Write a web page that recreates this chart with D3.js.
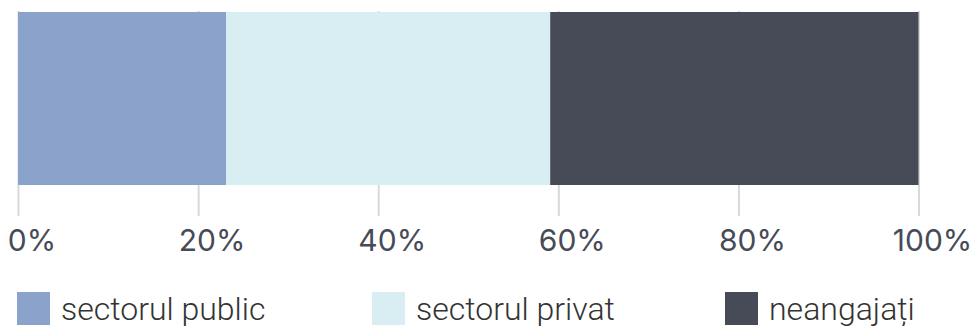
<!DOCTYPE html>
<html><head><meta charset="utf-8">
<script src="https://cdn.jsdelivr.net/npm/d3@7"></script>
<style>body{margin:0;background:#fff}svg{display:block}</style>
</head><body>
<script>
const categories = ["sectorul public", "sectorul privat", "neangajați"];
const values = [23.1, 36, 40.9];
const colors = ["#8ba3cb", "#d9eef3", "#474a57"];
const tickValues = [0, 20, 40, 60, 80, 100];
const tickLabels = ["0%", "20%", "40%", "60%", "80%", "100%"];

const W = 972, H = 326;
const svg = d3.select("body").append("svg").attr("width", W).attr("height", H);
const x = d3.scaleLinear().domain([0, 100]).range([18, 918.5]);

// gridlines / ticks
const axis = d3.axisBottom(x).tickValues(tickValues).tickSize(205)
  .tickFormat((d, i) => tickLabels[i]).tickPadding(14);
const g = svg.append("g").attr("transform", "translate(0,11)").call(axis);
g.select(".domain").remove();
g.selectAll(".tick line").attr("stroke", "#d9d9d9").attr("stroke-width", 2);
g.selectAll(".tick text").attr("fill", "#474a57").attr("font-family", "Inter")
  .attr("font-size", 30).attr("dx", 13.5).attr("dy", "0.71em").attr("y", 219);

// stacked bar
let acc = 0;
const segs = values.map((v, i) => { const s = {x0: acc, x1: acc + v, c: colors[i]}; acc += v; return s; });
svg.append("g").selectAll("rect").data(segs).join("rect")
  .attr("x", d => x(d.x0)).attr("width", d => x(d.x1) - x(d.x0))
  .attr("y", 12).attr("height", 173).attr("fill", d => d.c);

// legend
const legX = [17, 372, 725];
const leg = svg.append("g").selectAll("g").data(categories).join("g")
  .attr("transform", (d, i) => `translate(${legX[i]},292)`);
leg.append("rect").attr("width", 33).attr("height", 33).attr("fill", (d, i) => colors[i]);
leg.append("text").attr("x", 44).attr("y", 28).text(d => d)
  .attr("font-family", "Roboto").attr("font-weight", 300).attr("font-size", 32).attr("fill", "#333");
</script>
</body></html>
